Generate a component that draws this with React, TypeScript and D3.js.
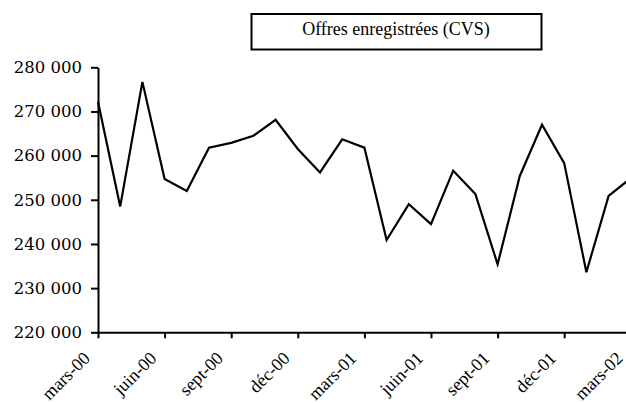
import React, { useRef, useEffect } from "react";
import * as d3 from "d3";

// monthly series, mars-00 .. mars-02
const months = [
  "mars-00", "avr-00", "mai-00", "juin-00", "juil-00", "août-00", "sept-00", "oct-00", "nov-00", "déc-00",
  "janv-01", "févr-01", "mars-01", "avr-01", "mai-01", "juin-01", "juil-01", "août-01", "sept-01", "oct-01",
  "nov-01", "déc-01", "janv-02", "févr-02", "mars-02",
];
const offres = [
  272200, 248500, 276700, 254700, 252000, 261800, 262900, 264500, 268100, 261500,
  256200, 263700, 261800, 240900, 249000, 244500, 256600, 251300, 235400, 255400,
  267000, 258300, 233600, 250900, 254900,
];
const xTickIdx = [0, 3, 6, 9, 12, 15, 18, 21, 24];
const yTicks = [220000, 230000, 240000, 250000, 260000, 270000, 280000];
const legendLabel = "Offres enregistrées (CVS)";

const App = () => {
  const ref = useRef<SVGSVGElement>(null);

  useEffect(() => {
    const svg = d3.select(ref.current);
    svg.selectAll("*").remove();

    const left = 98;
    const top = 67.3;
    const bottom = 332.3;
    const step = 22.2;

    const xScale = d3.scaleLinear()
      .domain([0, months.length - 1])
      .range([left, left + step * (months.length - 1)]);
    const yScale = d3.scaleLinear()
      .domain([220000, 280000])
      .range([bottom, top]);

    const fmt = d3.formatLocale({ decimal: ",", thousands: " ", grouping: [3], currency: ["", ""] }).format(",");

    // y axis
    const yAxis = d3.axisLeft(yScale)
      .tickValues(yTicks)
      .tickFormat((d) => fmt(d as number))
      .tickSize(7)
      .tickSizeOuter(0)
      .tickPadding(9);
    const gy = svg.append("g").attr("transform", `translate(${left},0)`).call(yAxis);
    gy.attr("font-family", null);
    gy.select(".domain").attr("stroke-width", 2);
    gy.selectAll(".tick line").attr("stroke-width", 2);
    gy.selectAll("text")
      .style("font-family", "'DejaVu Serif', 'Liberation Serif', serif")
      .style("font-size", "16.5px")
      .attr("fill", "#000");

    // x axis
    const xAxis = d3.axisBottom(xScale)
      .tickValues(xTickIdx)
      .tickFormat((d) => months[d as number])
      .tickSize(6)
      .tickSizeOuter(0);
    const gx = svg.append("g").attr("transform", `translate(0,${bottom})`).call(xAxis);
    gx.select(".domain").attr("stroke-width", 2);
    gx.selectAll(".tick line").attr("stroke-width", 2);
    gx.selectAll("text")
      .style("font-family", "'Liberation Serif', serif")
      .style("font-size", "18px")
      .attr("fill", "#000")
      .attr("text-anchor", "end")
      .attr("x", 0)
      .attr("y", 0)
      .attr("dy", 0)
      .attr("transform", "translate(-7.5,27) rotate(-45)");

    // data line
    const line = d3.line<number>()
      .x((d, i) => xScale(i))
      .y((d) => yScale(d));
    svg.append("path")
      .datum(offres)
      .attr("d", line)
      .attr("fill", "none")
      .attr("stroke", "#000")
      .attr("stroke-width", 2.2)
      .attr("stroke-linejoin", "miter");

    // legend box
    svg.append("rect")
      .attr("x", 251.5)
      .attr("y", 14)
      .attr("width", 290)
      .attr("height", 35.5)
      .attr("fill", "#fff")
      .attr("stroke", "#000")
      .attr("stroke-width", 2);
    svg.append("text")
      .attr("x", 396)
      .attr("y", 34.5)
      .attr("text-anchor", "middle")
      .style("font-family", "'Liberation Serif', serif")
      .style("font-size", "18px")
      .text(legendLabel);
  }, []);

  return (
    <svg
      ref={ref}
      width={626}
      height={403}
      style={{ position: "absolute", left: 0, top: 0, overflow: "hidden", background: "#fff" }}
    />
  );
};

export default App;
